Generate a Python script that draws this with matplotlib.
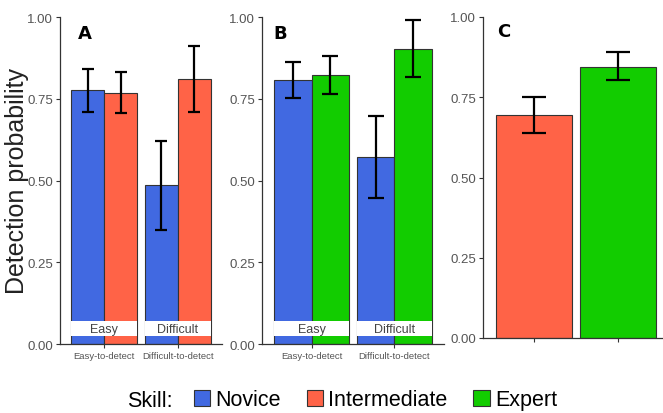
import numpy as np
import matplotlib
matplotlib.use('Agg')
import matplotlib.pyplot as plt
from matplotlib.patches import Patch

# ── DATA ───────────────────────────────────────────────────────────────────
groups = ['Easy-to-detect', 'Difficult-to-detect']
box_labels = ['Easy', 'Difficult']

a_novice    = [0.776, 0.485]
a_novice_lo = [0.709, 0.349]
a_novice_hi = [0.840, 0.620]
a_inter     = [0.768, 0.811]
a_inter_lo  = [0.707, 0.709]
a_inter_hi  = [0.832, 0.910]

b_novice    = [0.806, 0.573]
b_novice_lo = [0.752, 0.447]
b_novice_hi = [0.862, 0.696]
b_expert    = [0.823, 0.903]
b_expert_lo = [0.765, 0.816]
b_expert_hi = [0.881, 0.990]

c_skills = ['Intermediate', 'Expert']
c_vals   = [0.695, 0.845]
c_lo     = [0.639, 0.803]
c_hi     = [0.750, 0.890]

# ── STYLE ──────────────────────────────────────────────────────────────────
BLUE  = '#4169E1'
RED   = '#FF6347'
GREEN = '#12CC00'
EDGE  = '#333333'
TICKC = '#555555'
NARROW = ['Liberation Sans Narrow', 'Liberation Sans', 'DejaVu Sans']
plt.rcParams['font.family'] = ['Liberation Sans', 'DejaVu Sans']

W, H = 663, 414
fig = plt.figure(figsize=(W / 100, H / 100), dpi=100)


def px_axes(left, right, top, bottom):
    return fig.add_axes([left / W, 1 - bottom / H, (right - left) / W, (bottom - top) / H])


def style(ax):
    ax.set_ylim(0, 1.0)
    ax.set_xlim(0.4, 2.6)
    ax.set_yticks([0, 0.25, 0.5, 0.75, 1.0])
    ax.set_yticklabels(['0.00', '0.25', '0.50', '0.75', '1.00'],
                       family=NARROW, fontsize=9.5, color=TICKC)
    for s in ['top', 'right']:
        ax.spines[s].set_visible(False)
    for s in ['left', 'bottom']:
        ax.spines[s].set_color(EDGE)
        ax.spines[s].set_linewidth(0.9)
    ax.tick_params(length=3, width=0.8, color=EDGE, pad=2)
    ax.set_facecolor('white')


def errbars(ax, x, vals, lo, hi, capsize):
    vals = np.array(vals)
    yerr = [vals - np.array(lo), np.array(hi) - vals]
    ax.errorbar(x, vals, yerr=yerr, fmt='none', ecolor='black',
                elinewidth=1.6, capsize=capsize, capthick=1.6, zorder=4)


def group_panel(ax, left_vals, left_lo, left_hi, right_vals, right_lo, right_hi,
                left_col, right_col, capsize):
    x = np.arange(1, len(groups) + 1)
    w = 0.45
    ax.bar(x - w / 2, left_vals, width=w, color=left_col, edgecolor=EDGE, linewidth=0.8, zorder=2)
    ax.bar(x + w / 2, right_vals, width=w, color=right_col, edgecolor=EDGE, linewidth=0.8, zorder=2)
    errbars(ax, x - w / 2, left_vals, left_lo, left_hi, capsize)
    errbars(ax, x + w / 2, right_vals, right_lo, right_hi, capsize)
    # white label strips at the bottom
    ax.bar(x, 0.045, bottom=0.025, width=0.9, color='white', linewidth=0, zorder=3)
    for xi, lab in zip(x, box_labels):
        ax.text(xi, 0.047, lab, ha='center', va='center', fontsize=9,
                color='#444444', zorder=5)
    ax.set_xticks(x)
    ax.set_xticklabels(groups, fontsize=6.8, color=TICKC)


# ── PANEL A ────────────────────────────────────────────────────────────────
axA = px_axes(60, 222, 18, 345)
style(axA)
group_panel(axA, a_novice, a_novice_lo, a_novice_hi, a_inter, a_inter_lo, a_inter_hi,
            BLUE, RED, 4.3)
axA.text(0.11, 0.95, 'A', transform=axA.transAxes, fontsize=13, fontweight='bold',
         family='DejaVu Sans', va='center', ha='left')
axA.set_ylabel('Detection probability', fontsize=18, color='#222222')
axA.yaxis.set_label_coords(-0.19, 0.50)

# ── PANEL B ────────────────────────────────────────────────────────────────
axB = px_axes(262, 444, 18, 345)
style(axB)
group_panel(axB, b_novice, b_novice_lo, b_novice_hi, b_expert, b_expert_lo, b_expert_hi,
            BLUE, GREEN, 5.6)
axB.text(0.065, 0.95, 'B', transform=axB.transAxes, fontsize=13, fontweight='bold',
         family='DejaVu Sans', va='center', ha='left')

# ── PANEL C ────────────────────────────────────────────────────────────────
axC = px_axes(483, 669, 18, 339)
style(axC)
xc = np.arange(1, len(c_skills) + 1)
axC.bar(xc, c_vals, width=0.9, color=[RED, GREEN], edgecolor=EDGE, linewidth=0.8, zorder=2)
errbars(axC, xc, c_vals, c_lo, c_hi, 8.6)
axC.set_xticks(xc)
axC.set_xticklabels(['', ''])
axC.text(0.075, 0.955, 'C', transform=axC.transAxes, fontsize=13, fontweight='bold',
         family='DejaVu Sans', va='center', ha='left')

# ── LEGEND ─────────────────────────────────────────────────────────────────
fig.text(127 / W, 1 - 402 / H, 'Skill:', fontsize=15.5, va='center', ha='left')
handles = [Patch(facecolor=BLUE, edgecolor=EDGE, linewidth=0.8, label='Novice'),
           Patch(facecolor=RED, edgecolor=EDGE, linewidth=0.8, label='Intermediate'),
           Patch(facecolor=GREEN, edgecolor=EDGE, linewidth=0.8, label='Expert')]
fig.legend(handles=handles, loc='center left', bbox_to_anchor=(194 / W, 1 - 401 / H),
           ncol=3, frameon=False, fontsize=15.5, handlelength=0.75, handleheight=0.8,
           handletextpad=0.25, columnspacing=1.2, borderaxespad=0, borderpad=0)

fig.savefig('out.png', dpi=100, facecolor='white')
